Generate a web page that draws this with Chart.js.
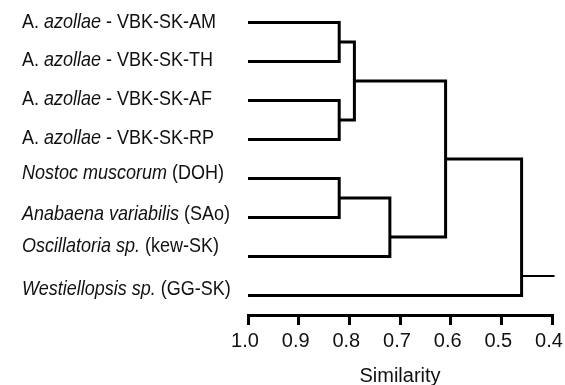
<!DOCTYPE html>
<html>
<head>
<meta charset="utf-8">
<script src="https://cdn.jsdelivr.net/npm/chart.js@4"></script>
<style>
  body { margin: 0; background: #fff; }
</style>
</head>
<body>
<canvas id="dendro" width="565" height="385"></canvas>
<script>
// leaves, top to bottom (text between * is italic)
var leafLabels = [
    "A. *azollae* - VBK-SK-AM",
    "A. *azollae* - VBK-SK-TH",
    "A. *azollae* - VBK-SK-AF",
    "A. *azollae* - VBK-SK-RP",
    "*Nostoc muscorum* (DOH)",
    "*Anabaena variabilis* (SAo)",
    "*Oscillatoria sp.* (kew-SK)",
    "*Westiellopsis sp.* (GG-SK)"
];

// merges: nodes 0-7 are leaves, merge k becomes node 8 + k
var mergeLeft   = [0, 2, 4, 8, 10, 11, 13];
var mergeRight  = [1, 3, 5, 9, 6, 12, 7];
var mergeHeight = [0.82, 0.82, 0.82, 0.79, 0.72, 0.61, 0.46];
var mergeRow    = [0.5, 2.5, 4.5, 1.5, 5.5, 3.5, 6.5];
var rootEnd = 0.395;

var xTicks = ["1.0", "0.9", "0.8", "0.7", "0.6", "0.5", "0.4"];

// small vertical nudges of the leaf labels (px)
var labelShift = [0, -1, -1, -1, -5, -3, -10, -6];

var nodeX = [], nodeY = [];
for (var i = 0; i < leafLabels.length; i++) { nodeX.push(1.0); nodeY.push(i); }
for (var k = 0; k < mergeLeft.length; k++) { nodeX.push(mergeHeight[k]); nodeY.push(mergeRow[k]); }

var datasets = [];
for (var k = 0; k < mergeLeft.length; k++) {
    var a = mergeLeft[k], b = mergeRight[k], h = mergeHeight[k];
    datasets.push({
        data: [
            {x: nodeX[a], y: nodeY[a]},
            {x: h, y: nodeY[a]},
            {x: h, y: nodeY[b]},
            {x: nodeX[b], y: nodeY[b]}
        ],
        borderWidth: 3
    });
}
var root = nodeX.length - 1;
datasets.push({
    data: [{x: nodeX[root], y: nodeY[root]}, {x: rootEnd, y: nodeY[root]}],
    borderWidth: 2
});
datasets.forEach(function (d) {
    d.showLine = true;
    d.pointRadius = 0;
    d.borderColor = '#000';
    d.borderJoinStyle = 'miter';
    d.borderCapStyle = 'butt';
    d.clip = 8;
    d.fill = false;
});

var FONT = '"Liberation Sans", Arial, sans-serif';

var leafLabelPlugin = {
    id: 'leafLabels',
    afterDraw: function (chart) {
        var ctx = chart.ctx, ys = chart.scales.y;
        ctx.save();
        ctx.fillStyle = '#111';
        ctx.textBaseline = 'middle';
        ctx.textAlign = 'left';
        leafLabels.forEach(function (lab, i) {
            var y = ys.getPixelForValue(i) + labelShift[i];
            var x = 22;
            lab.split('*').forEach(function (part, j) {
                if (!part) return;
                ctx.font = (j % 2 ? 'italic ' : '') + '18px ' + FONT;
                // the source lettering is a little taller than plain Arial
                ctx.save();
                ctx.translate(x, y);
                ctx.scale(1, 1.12);
                ctx.fillText(part, 0, 0);
                ctx.restore();
                x += ctx.measureText(part).width;
            });
        });
        ctx.restore();
    }
};

var ctx = document.getElementById('dendro').getContext('2d');
var chart = new Chart(ctx, {
    type: 'scatter',
    data: { datasets: datasets },
    plugins: [leafLabelPlugin],
    options: {
        responsive: false,
        animation: false,
        layout: { padding: { left: 248, right: 13, top: 3, bottom: 0 } },
        plugins: { legend: { display: false }, tooltip: { enabled: false } },
        scales: {
            x: {
                type: 'linear',
                reverse: true,
                min: 0.4,
                max: 1.0,
                afterFit: function (s) {
                    s.height = 70;
                    s.paddingLeft = 0;
                    s.paddingRight = 0;
                },
                border: { display: true, color: '#000', width: 3 },
                grid: { drawOnChartArea: false, drawTicks: true, tickLength: 10, color: '#000', lineWidth: 3 },
                ticks: {
                    stepSize: 0.1,
                    autoSkip: false,
                    maxRotation: 0,
                    color: '#111',
                    padding: 4,
                    labelOffset: -3,
                    font: { family: FONT, size: 20 },
                    callback: function (v) {
                        var idx = Math.round((1.0 - v) * 10);
                        return xTicks[idx];
                    }
                },
                title: {
                    display: true,
                    text: 'Similarity',
                    color: '#111',
                    font: { family: FONT, size: 20 },
                    padding: { top: 0, bottom: -3 }
                }
            },
            y: { type: 'linear', reverse: true, min: -0.5, max: 7.5, display: false }
        }
    }
});
</script>
</body>
</html>
